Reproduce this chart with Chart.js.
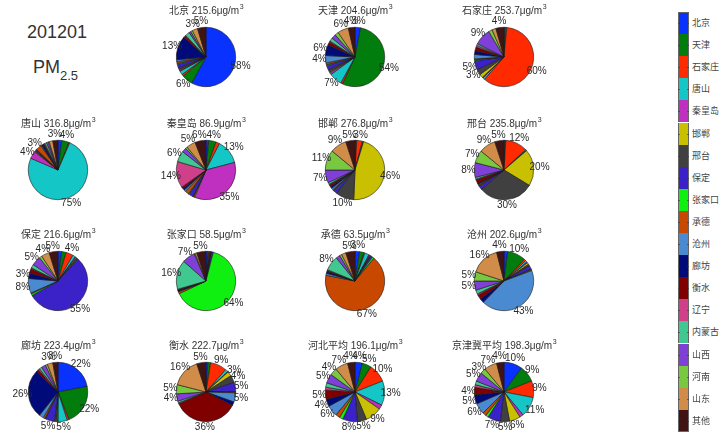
<!DOCTYPE html>
<html>
<head>
<meta charset="utf-8">
<script src="https://cdn.jsdelivr.net/npm/chart.js@4/dist/chart.umd.min.js"></script>
<style>
  html, body { margin: 0; padding: 0; background: #fff; }
  #wrap { position: relative; width: 721px; height: 441px; overflow: hidden; background: #fff; }
  #wrap canvas { position: absolute; }
  .big { position: absolute; font-family: "Liberation Sans", Arial, sans-serif; color: #333; white-space: nowrap; }
  .swatch { position: absolute; left: 678px; width: 11px; box-sizing: border-box; border-left: 1px solid #666; border-right: 1px solid #666; }
  .tick { position: absolute; width: 2px; height: 1px; background: #333; opacity: .6; }
  .lg { position: absolute; left: 692px; font: 9px "Noto Sans CJK SC", sans-serif; color: #444; line-height: 12px; white-space: nowrap; }
</style>
</head>
<body>
<div id="wrap">
  <div class="big" style="left:27px;top:22px;font-size:18px;">201201</div>
  <div class="big" style="left:33px;top:57px;font-size:18px;">PM<span style="font-size:13px;position:relative;top:7px;">2.5</span></div>
</div>
<script>
// Source regions (legend order) and their colours
const sources = ['北京','天津','石家庄','唐山','秦皇岛','邯郸','邢台','保定','张家口','承德','沧州','廊坊','衡水','辽宁','内蒙古','山西','河南','山东','其他'];
const sourceColors = ['#0a32ff','#007d0c','#ff2a00','#14c6c6','#c030c0','#c8c000','#404040','#3a22c8','#10f010','#c84800',
                      '#4a8ad0','#000a78','#800000','#d0408a','#40c890','#8040d8','#78c840','#d08c48','#401414'];

// Receptor cities and their monthly mean PM2.5 (μg/m3)
const cities = ['北京','天津','石家庄','唐山','秦皇岛','邯郸','邢台','保定','张家口','承德','沧州','廊坊','衡水','河北平均','京津冀平均'];
const concentrations = [215.6, 204.6, 253.7, 316.8, 86.9, 276.8, 235.8, 216.6, 58.5, 63.5, 202.6, 223.4, 222.7, 196.1, 198.3];

// Source contributions (%) for each receptor, in the order of `sources`
const beijing      = [58, 6, 1, 2, 0.5, 0.5, 1, 2, 0.5, 1, 1, 13, 1, 0.5, 2.4, 1, 1, 3, 4.6];
const tianjin      = [3, 54, 1, 7, 1, 0.5, 1.4, 2.4, 0.5, 1, 4, 6, 1.7, 0.5, 2, 2.4, 2, 6, 3.6];
const shijiazhuang = [0.5, 1, 60, 1, 0.5, 2, 3, 5, 0.5, 0.5, 2.4, 2, 2, 1, 1, 9, 2, 2.2, 4.4];
const tangshan     = [2, 4, 0.5, 75, 4, 0.5, 0.5, 0.5, 0.2, 3, 0.5, 1, 0.5, 0.5, 1, 1, 0.5, 2, 2.8];
const qinhuangdao  = [1.5, 4, 2, 13.4, 35.4, 0.5, 0.5, 2.4, 0.5, 2, 1, 1, 1, 14.4, 6, 2.4, 1, 5, 6];
const handan       = [0.5, 0.5, 3, 0.5, 0.2, 46, 10, 2, 0.3, 0.5, 1, 1, 1, 0.5, 1, 7, 11, 9, 5];
const xingtai      = [0.5, 0.5, 12, 0.5, 0.2, 20, 30, 2, 0.3, 0.5, 0.5, 0.5, 2, 0.5, 1, 8, 7, 9, 5];
const baoding      = [2, 2.4, 4, 1.5, 0.5, 0.5, 1, 55, 1, 0.5, 8, 3, 2.4, 0.5, 2, 5, 1.5, 4.4, 4.8];
const zhangjiakou  = [1, 0.5, 0.5, 0.3, 0.2, 0.2, 0.3, 1, 64, 1, 0.3, 0.5, 0.3, 0.4, 16, 7, 0.5, 1, 5];
const chengde      = [2.5, 2.4, 0.5, 2.4, 0.5, 0.3, 0.5, 1, 1, 67, 1.1, 1, 0.5, 0.5, 8, 2.2, 1.2, 2.4, 5];
const cangzhou     = [2, 10, 1, 1, 0.5, 1, 1, 2, 0.3, 0.5, 43, 2.4, 2.4, 0.7, 2.2, 5, 5, 16, 4];
const langfang     = [22, 22, 1, 5, 0.5, 0.5, 1, 5, 0.3, 1, 2.4, 26.4, 1.4, 0.8, 1.4, 2.4, 1.1, 3, 2.8];
const hengshui     = [1, 1.5, 9, 1.5, 0.3, 2.5, 4, 5, 0.2, 0.5, 5, 2, 36, 0.5, 1, 4, 5, 16, 5];
const hebeiAvg     = [4, 5, 10, 13.3, 2.4, 9, 5, 8, 2, 2.4, 6, 4, 5, 1.5, 2.4, 5, 4, 7, 4];
const jjjAvg       = [10, 9, 9, 11, 2, 6, 5, 7, 1.5, 2, 6, 5, 4, 1.5, 2, 5, 3, 7, 4];

const shares = [beijing, tianjin, shijiazhuang, tangshan, qinhuangdao, handan, xingtai, baoding,
                zhangjiakou, chengde, cangzhou, langfang, hengshui, hebeiAvg, jjjAvg];

// Grid of pie centres; the first cell holds the heading text
const colX = [58, 206, 355, 504];
const rowY = [57, 170, 281, 392];
const R = 30;          // pie radius
const CW = 160, CH = 110;

const FONT = '"Liberation Sans", "Noto Sans CJK SC", Arial, sans-serif';

// Percentage labels around each pie plus the city title above it
const pieDecor = {
  id: 'pieDecor',
  afterDraw(chart, args, opts) {
    const ctx = chart.ctx;
    const data = chart.data.datasets[0].data;
    const total = data.reduce((a, b) => a + b, 0);
    const meta = chart.getDatasetMeta(0);
    const area = chart.chartArea;
    const cx = (area.left + area.right) / 2, cy = (area.top + area.bottom) / 2;
    ctx.save();
    ctx.fillStyle = '#2a2a2a';
    ctx.font = '10px ' + FONT;
    ctx.textAlign = 'center';
    ctx.textBaseline = 'middle';
    meta.data.forEach((arc, i) => {
      const pct = Math.round(data[i] / total * 100);
      if (pct < 3) return;
      const p = arc.getProps(['x', 'y', 'startAngle', 'endAngle', 'outerRadius'], true);
      const mid = (p.startAngle + p.endAngle) / 2;
      const r = p.outerRadius * 1.2;
      ctx.fillText(pct + '%', p.x + Math.cos(mid) * r, p.y + Math.sin(mid) * r);
    });
    // title
    const main = opts.name + ' ' + opts.value.toFixed(1) + 'μg/m';
    ctx.font = '10px ' + FONT;
    const w = ctx.measureText(main).width;
    ctx.font = '7px ' + FONT;
    const w3 = ctx.measureText('3').width;
    const x0 = cx - (w + w3) / 2, ty = cy - 46;
    ctx.textAlign = 'left';
    ctx.fillStyle = '#333';
    ctx.font = '10px ' + FONT;
    ctx.fillText(main, x0, ty);
    ctx.font = '7px ' + FONT;
    ctx.fillText('3', x0 + w + 0.5, ty - 4);
    ctx.restore();
  }
};

const wrap = document.getElementById('wrap');

cities.forEach((city, i) => {
  const slot = i + 1;
  const cx = colX[slot % 4], cy = rowY[Math.floor(slot / 4)];
  const cv = document.createElement('canvas');
  cv.width = CW; cv.height = CH;
  cv.style.width = CW + 'px'; cv.style.height = CH + 'px';
  cv.style.left = (cx - CW / 2) + 'px';
  cv.style.top = (cy - CH / 2) + 'px';
  wrap.appendChild(cv);
  const padX = CW / 2 - R, padY = CH / 2 - R;
  new Chart(cv, {
    type: 'pie',
    data: {
      labels: sources,
      datasets: [{
        data: shares[i],
        backgroundColor: sourceColors,
        borderColor: '#1a1a1a',
        borderWidth: 0.6,
        hoverOffset: 0
      }]
    },
    options: {
      responsive: false,
      animation: false,
      events: [],
      layout: { padding: { left: padX, right: padX, top: padY, bottom: padY } },
      plugins: {
        legend: { display: false },
        tooltip: { enabled: false },
        pieDecor: { name: city, value: concentrations[i] }
      }
    },
    plugins: [pieDecor]
  });
});

// Colour key on the right
const keyTop = 12, keyH = 22.1;
sources.forEach((s, i) => {
  const top = keyTop + i * keyH;
  const sw = document.createElement('div');
  sw.className = 'swatch';
  sw.style.top = top + 'px';
  sw.style.height = keyH + 'px';
  sw.style.background = sourceColors[i];
  if (i === 0) sw.style.borderTop = '1px solid #666';
  if (i === sources.length - 1) sw.style.borderBottom = '1px solid #666';
  wrap.appendChild(sw);
  [678, 687].forEach(x => {
    const t = document.createElement('div');
    t.className = 'tick';
    t.style.left = x + 'px';
    t.style.top = Math.round(top + keyH / 2) + 'px';
    wrap.appendChild(t);
  });
  const lb = document.createElement('div');
  lb.className = 'lg';
  lb.textContent = s;
  lb.style.top = (top + keyH / 2 - 6) + 'px';
  wrap.appendChild(lb);
});
</script>
</body>
</html>
